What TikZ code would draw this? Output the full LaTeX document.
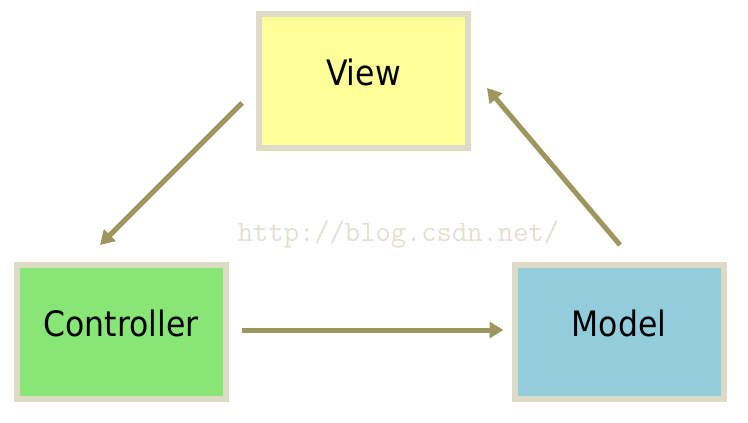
\documentclass[tikz,border=0pt]{standalone}
\usepackage{fontspec}
\usetikzlibrary{arrows.meta}
\newfontfamily\boxfont{DejaVu Sans Condensed}
\definecolor{frame}{RGB}{222,218,200}
\definecolor{viewfill}{RGB}{255,255,153}
\definecolor{ctrlfill}{RGB}{136,230,118}
\definecolor{modelfill}{RGB}{147,205,220}
\definecolor{flowcol}{RGB}{157,150,95}
\definecolor{markcol}{RGB}{226,223,212}
\tikzset{
  mvcbox/.style={draw=frame, line width=6pt, outer sep=0pt,
    minimum width=209pt, minimum height=134pt,
    text height=25pt, text depth=16pt,
    font=\boxfont\fontsize{35}{40}\selectfont},
  flow/.style={draw=flowcol, line width=5pt,
    -{Triangle[length=14pt,width=16pt]}}
}

\begin{document}
\begin{tikzpicture}[x=1pt,y=-1pt]
            \fill[white] (0,0) rectangle (748,423);
            \useasboundingbox (0,0) rectangle (748,423);
            \node[mvcbox, fill=viewfill] (view) at (363.5,81) {View};
            \node[mvcbox, fill=ctrlfill] (ctrl) at (121,332) {Controller};
            \node[mvcbox, fill=modelfill] (model) at (619,332) {Model};
            \node[anchor=base, text=markcol, font=\ttfamily\fontsize{29.7}{32}\selectfont] (mark) at (398.5,241) {http://blog.csdn.net/};
            \draw[flow] ([shift={(-17,22)}]view.west) -- ([shift={(-21,-20)}]ctrl.north);
            \draw[flow] ([shift={(16,-2)}]ctrl.east) -- ([shift={(-11,-2)}]model.west);
            \draw[flow] ([shift={(1,-20)}]model.north) -- ([shift={(19,7)}]view.east);
        \end{tikzpicture}
\end{document}
